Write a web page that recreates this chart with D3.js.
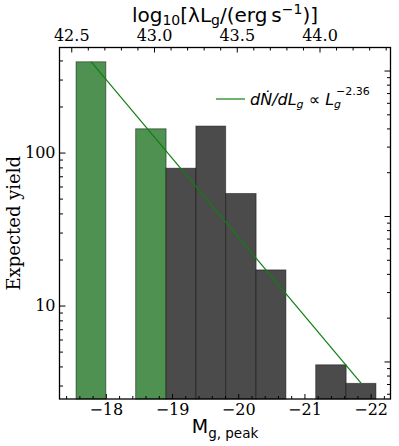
<!DOCTYPE html>
<html>
<head>
<meta charset="utf-8">
<script src="https://cdn.jsdelivr.net/npm/d3@7"></script>
<style>
  body { margin: 0; background: #fff; }
  svg { display: block; }
  .serif { font-family: 'DejaVu Serif', serif; }
  .sans { font-family: 'DejaVu Sans', sans-serif; }
</style>
</head>
<body>
<svg id="chart" width="399" height="446"></svg>
<script>
// Bin edges in peak g-band absolute magnitude
const binEdges = [-17.55, -18.0, -18.45, -18.91, -19.36, -19.81, -20.27, -20.72, -21.17, -21.63, -22.08]
// Expected yield per bin (0 = empty bin)
const greenYield = [392, 0, 143, 0, 0, 0, 0, 0, 0, 0]
const greyYield = [0, 0, 0, 79, 149, 54, 17.1, 0, 4.1, 3.1]
// Power-law line, read at the first and last bin centres (right-hand log axis)
const lineMag = [-17.776, -21.855]
const lineValue = [115, 0.71]

const magDomain = [-17.3, -22.3]
const yieldDomain = [2.45, 486]
const rightDomain = [0.552, 144]
const lumOffset = 35.509 // log10(lambda L_g) = lumOffset - 0.4 M

const margin = { left: 59.5, top: 47.5, right: 8.5, bottom: 47 }
const width = 399 - margin.left - margin.right
const height = 446 - margin.top - margin.bottom

const svg = d3.select('#chart')
const g = svg.append('g')
  .attr('transform', `translate(${margin.left},${margin.top})`)

const x = d3.scaleLinear().domain(magDomain).range([0, width])
const xTop = d3.scaleLinear()
  .domain(magDomain.map(m => lumOffset - 0.4 * m))
  .range([0, width])
const y = d3.scaleLog().domain(yieldDomain).range([height, 0])
const yRight = d3.scaleLog().domain(rightDomain).range([height, 0])

/**
 * Draws one histogram series as bars between consecutive bin edges.
 *
 * @param {number[]} values The yield of each bin
 * @param {string} fill The fill colour
 */
function drawBars (values, fill) {
  const bins = values
    .map((v, i) => ({ v: v, x0: binEdges[i], x1: binEdges[i + 1] }))
    .filter(d => d.v > 0)

  g.append('g')
    .selectAll('rect')
    .data(bins)
    .enter()
    .append('rect')
    .attr('x', d => x(d.x0))
    .attr('width', d => x(d.x1) - x(d.x0))
    .attr('y', d => y(d.v))
    .attr('height', d => height - y(d.v))
    .attr('fill', fill)
    .attr('stroke', '#000')
    .attr('stroke-opacity', 0.45)
    .attr('stroke-width', 1)
}

drawBars(greenYield, '#4e9150')
drawBars(greyYield, '#4b4b4b')

// Power-law fit
const linePts = lineMag.map((m, i) => [x(m), yRight(lineValue[i])])
g.append('path')
  .attr('d', d3.line()(linePts))
  .attr('fill', 'none')
  .attr('stroke', '#0f7f12')
  .attr('stroke-width', 1.2)

/**
 * Adds an axis whose ticks point into the plot.
 *
 * @param {*} axisFn The d3 axis generator
 * @param {string} transform Where to put the axis
 * @param {number[]} values The tick values
 * @param {number} size The inward tick length
 * @param {*} format The label formatter, or null for no labels
 * @param {number} pad The label padding
 */
function addAxis (axisFn, transform, values, size, format, pad) {
  const axis = axisFn
    .tickValues(values)
    .tickSize(-size)
    .tickPadding(pad)
    .tickFormat(format || (() => ''))
  const a = g.append('g')
    .attr('transform', transform)
    .attr('class', 'serif')
    .call(axis)
  a.select('.domain').remove()
  a.selectAll('line').attr('stroke', '#000').attr('stroke-width', 1)
  a.selectAll('text').attr('font-size', 16).attr('fill', '#000')
  return a
}

const isInt = v => Math.abs(v - Math.round(v)) < 1e-6
const isPow10 = v => isInt(Math.log10(v))

// Bottom axis (magnitude)
const magTicks = x.ticks(25)
addAxis(d3.axisBottom(x), `translate(0,${height})`, magTicks.filter(v => !isInt(v)), 3, null, 5)
addAxis(d3.axisBottom(x), `translate(0,${height})`, magTicks.filter(isInt), 5, d3.format('d'), 5)

// Top axis (luminosity)
const lumTicks = xTop.ticks(20)
const isHalf = v => isInt(v * 2)
addAxis(d3.axisTop(xTop), 'translate(0,0)', lumTicks.filter(v => !isHalf(v)), 3, null, 7)
addAxis(d3.axisTop(xTop), 'translate(0,0)', lumTicks.filter(isHalf), 5, d3.format('.1f'), 7)

// Left axis (expected yield)
const yTicks = y.ticks()
addAxis(d3.axisLeft(y), 'translate(0,0)', yTicks.filter(v => !isPow10(v)), 3.5, null, 4)
addAxis(d3.axisLeft(y), 'translate(0,0)', yTicks.filter(isPow10), 6, d3.format('d'), 4)

// Right axis (line scale, no labels)
const rTicks = yRight.ticks()
addAxis(d3.axisRight(yRight), `translate(${width},0)`, rTicks.filter(v => !isPow10(v)), 3.5, null, 4)
addAxis(d3.axisRight(yRight), `translate(${width},0)`, rTicks.filter(isPow10), 6, null, 4)

// Frame
g.append('rect')
  .attr('width', width)
  .attr('height', height)
  .attr('fill', 'none')
  .attr('stroke', '#000')
  .attr('stroke-width', 1.3)

// Axis titles
svg.append('text')
  .attr('class', 'serif')
  .attr('transform', `translate(20,${margin.top + height / 2}) rotate(-90)`)
  .attr('text-anchor', 'middle')
  .attr('font-size', 18)
  .text('Expected yield')

const xLabel = svg.append('text')
  .attr('class', 'sans')
  .attr('x', margin.left + width / 2)
  .attr('y', 433)
  .attr('text-anchor', 'middle')
  .attr('font-size', 19)
xLabel.append('tspan').text('M')
xLabel.append('tspan').attr('dy', 5).attr('font-size', 13.5).text('g, peak')

const topLabel = svg.append('text')
  .attr('class', 'sans')
  .attr('x', margin.left + width / 2)
  .attr('y', 22)
  .attr('text-anchor', 'middle')
  .attr('font-size', 20)
topLabel.append('tspan').text('log')
topLabel.append('tspan').attr('dy', 3).attr('font-size', 14).text('10')
topLabel.append('tspan').attr('dy', -3).text('[λL')
topLabel.append('tspan').attr('dy', 3).attr('font-size', 14).text('g')
topLabel.append('tspan').attr('dy', -3).text('/(erg\u2009s')
topLabel.append('tspan').attr('dy', -8).attr('font-size', 14).text('−1')
topLabel.append('tspan').attr('dy', 8).text(')]')

// Legend
svg.append('line')
  .attr('x1', 216).attr('x2', 245)
  .attr('y1', 99).attr('y2', 99)
  .attr('stroke', '#0f7f12')
  .attr('stroke-width', 1.2)

const legend = svg.append('text')
  .attr('class', 'sans')
  .attr('x', 250)
  .attr('y', 105)
  .attr('font-size', 16)
  .attr('font-style', 'italic')
legend.append('tspan').text('dṄ/dL')
legend.append('tspan').attr('dy', 3).attr('font-size', 11).text('g')
legend.append('tspan').attr('dy', -3).text(' ∝ L')
legend.append('tspan').attr('dy', 3).attr('font-size', 11).text('g')
legend.append('tspan').attr('dy', -13).attr('dx', -5).attr('font-size', 11).attr('font-style', 'normal').text('−2.36')
</script>
</body>
</html>
